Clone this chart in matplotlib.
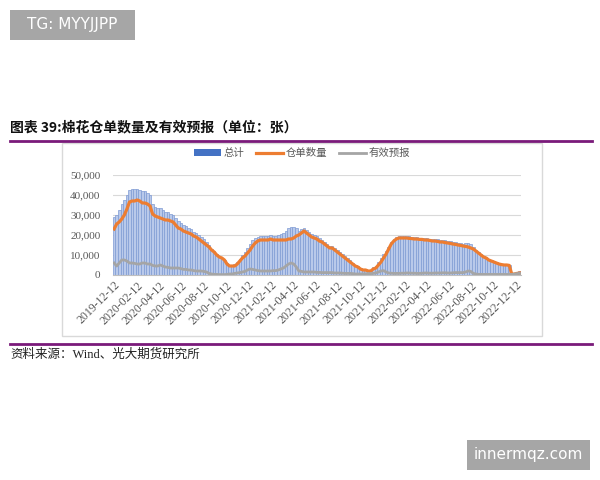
import numpy as np
import pandas as pd
import matplotlib
matplotlib.use('Agg')
import matplotlib.pyplot as plt
from matplotlib.patches import Rectangle
from matplotlib.lines import Line2D

# weekly data, 2019-12-12 .. 2022-12-22
dates = pd.date_range('2019-12-12', periods=159, freq='7D')

# 仓单数量
warrants = [
    23000, 25500, 26500, 28000, 30000, 33000, 36500, 37000, 37000, 37500,
    37000, 36000, 36000, 35500, 34500, 30500, 29500, 29000, 28500, 28000,
    27500, 27500, 27000, 26500, 25000, 23500, 23000, 22000, 21500, 21000,
    20500, 19500, 19000, 18000, 17000, 16000, 15000, 14000, 12500, 11500,
    10000, 9000, 8500, 7500, 5500, 4500, 4500, 4500, 5500, 7000,
    8500, 9500, 11000, 12500, 14500, 16000, 17000, 17500, 17500, 17500,
    17500, 18000, 17500, 17500, 17500, 17500, 17500, 17500, 18000, 18000,
    18500, 19500, 20000, 21000, 22000, 21000, 20000, 19000, 18500, 18000,
    17000, 16500, 15500, 14500, 13500, 13500, 12500, 11500, 10500, 9500,
    8500, 7500, 6500, 5500, 4500, 4000, 3000, 2500, 2500, 2000,
    2000, 3000, 3500, 5000, 6500, 8500, 10500, 13000, 15500, 17000,
    18000, 18500, 18500, 18500, 18500, 18300, 18200, 18000, 18000, 17800,
    17800, 17500, 17500, 17300, 17000, 17000, 16800, 16500, 16500, 16200,
    16000, 15800, 15500, 15300, 15000, 14800, 14500, 14300, 14000, 13500,
    13000, 12000, 11000, 10000, 9000, 8500, 7500, 7000, 6500, 6000,
    5500, 5200, 5000, 5000, 4800, 300, 500, 800, 1000,
]

# 有效预报
forecasts = [
    6000, 4500, 6000, 7500, 7500, 7000, 6000, 6000, 5800, 5500,
    5500, 6000, 6000, 5500, 5500, 4800, 4500, 4500, 5000, 4500,
    4000, 3800, 3500, 3500, 3500, 3500, 3200, 2800, 2800, 2500,
    2500, 2200, 2000, 2000, 2000, 1800, 1500, 800, 500, 300,
    300, 200, 200, 200, 300, 500, 500, 800, 1000, 1200,
    1500, 1800, 2500, 3000, 2800, 2500, 2200, 2000, 2000, 2000,
    2000, 2000, 2200, 2200, 2500, 3000, 3500, 4500, 5500, 6000,
    5500, 4000, 2000, 1800, 1500, 1500, 1500, 1500, 1500, 1300,
    1300, 1200, 1200, 1200, 1200, 1200, 1000, 1000, 1000, 900,
    800, 800, 800, 700, 500, 500, 500, 500, 600, 700,
    700, 800, 1000, 1500, 2000, 2200, 1500, 1000, 900, 800,
    800, 800, 900, 900, 1000, 1000, 900, 900, 800, 800,
    900, 1000, 1000, 900, 900, 1000, 1000, 1000, 1100, 1100,
    1000, 1000, 1100, 1200, 1200, 1200, 1200, 1500, 2000, 1800,
    800, 500, 300, 300, 300, 300, 300, 300, 300, 300,
    300, 300, 300, 300, 300, 300, 500, 700, 800,
]

# 总计
total = np.array(warrants) + np.array(forecasts)

tick_dates = [pd.Timestamp(f'{y}-{m:02d}-12') for y, m in
              [(2019, 12)] + [(yy, mm) for yy in (2020, 2021, 2022) for mm in range(2, 13, 2)]]
tick_labels = [d.strftime('%Y-%m-%d') for d in tick_dates]
y_ticks = [0, 10000, 20000, 30000, 40000, 50000]

W, H = 600, 480
fig = plt.figure(figsize=(6, 4.8), dpi=100)
fig.patch.set_facecolor('white')

def fx(px):
    return px / W

def fy(py):
    return 1 - py / H

# watermark boxes
fig.patches.append(Rectangle((fx(10), fy(40)), fx(125), 30 / H, transform=fig.transFigure,
                             facecolor='#a6a6a6', edgecolor='none'))
fig.text(fx(72), fy(25), 'TG: MYYJJPP', color='white', fontsize=11, ha='center', va='center')
fig.patches.append(Rectangle((fx(467), fy(470)), fx(123), 30 / H, transform=fig.transFigure,
                             facecolor='#a6a6a6', edgecolor='none'))
fig.text(fx(528), fy(455), 'innermqz.com', color='white', fontsize=11, ha='center', va='center')

# title and rules
fig.text(fx(10), fy(127), '图表 39:棉花仓单数量及有效预报（单位：张）', fontsize=10, fontweight='bold',
         family=['Noto Sans CJK SC'], ha='left', va='center', color='#111111')
fig.add_artist(Line2D([fx(10), fx(592)], [fy(141), fy(141)], color='#7a1a7a', lw=2))
fig.add_artist(Line2D([fx(10), fx(592)], [fy(344), fy(344)], color='#7a1a7a', lw=2))
fig.text(fx(10), fy(355), '资料来源：Wind、光大期货研究所', fontsize=9,
         family=['Liberation Serif', 'Noto Sans CJK SC'], ha='left', va='center', color='#222222')

# chart frame (behind the axes)
fig.patches.append(Rectangle((fx(62), fy(336)), fx(480), 193 / H, transform=fig.transFigure,
                             facecolor='white', edgecolor='#d9d9d9', lw=1, zorder=-5))

ax = fig.add_axes([fx(113), fy(275), fx(408), 100 / H], zorder=2)
ax.patch.set_alpha(0)
b = ax.bar(dates, total, width=7, color='#b9c9ea', edgecolor='#7f9bd4', linewidth=0.5, zorder=2)
l1, = ax.plot(dates, warrants, color='#ed7d31', lw=2.3, zorder=3)
l2, = ax.plot(dates, forecasts, color='#a5a5a5', lw=2, zorder=3)

ax.set_xlim(pd.Timestamp('2019-12-09'), pd.Timestamp('2022-12-26'))
ax.set_ylim(0, 50000)
ax.set_yticks(y_ticks)
ax.set_yticklabels([f'{v:,}' for v in y_ticks], fontsize=8, family='Liberation Serif', color='#595959')
ax.set_xticks(tick_dates)
ax.set_xticklabels(tick_labels, rotation=45, ha='right', rotation_mode='anchor',
                   fontsize=8.5, family='Liberation Serif', color='#595959')
ax.tick_params(axis='both', length=0)
ax.tick_params(axis='y', pad=9)
ax.tick_params(axis='x', pad=3)
ax.grid(axis='y', color='#d9d9d9', lw=0.8, zorder=0)
ax.set_axisbelow(True)
for s in ['top', 'right', 'left']:
    ax.spines[s].set_visible(False)
ax.spines['bottom'].set_color('#bfbfbf')

patch = Rectangle((0, 0), 1, 1, facecolor='#4472c4')
leg = ax.legend([patch, l1, l2], ['总计', '仓单数量', '有效预报'], loc='center',
                bbox_to_anchor=(fx(302), fy(153)), bbox_transform=fig.transFigure,
                ncol=3, frameon=False, handlelength=2.6, handleheight=0.6, columnspacing=1.1,
                handletextpad=0.25, prop={'family': ['Noto Sans CJK SC'], 'size': 7.5})
for t in leg.get_texts():
    t.set_color('#595959')

fig.savefig('out.png', dpi=100, facecolor='white')
